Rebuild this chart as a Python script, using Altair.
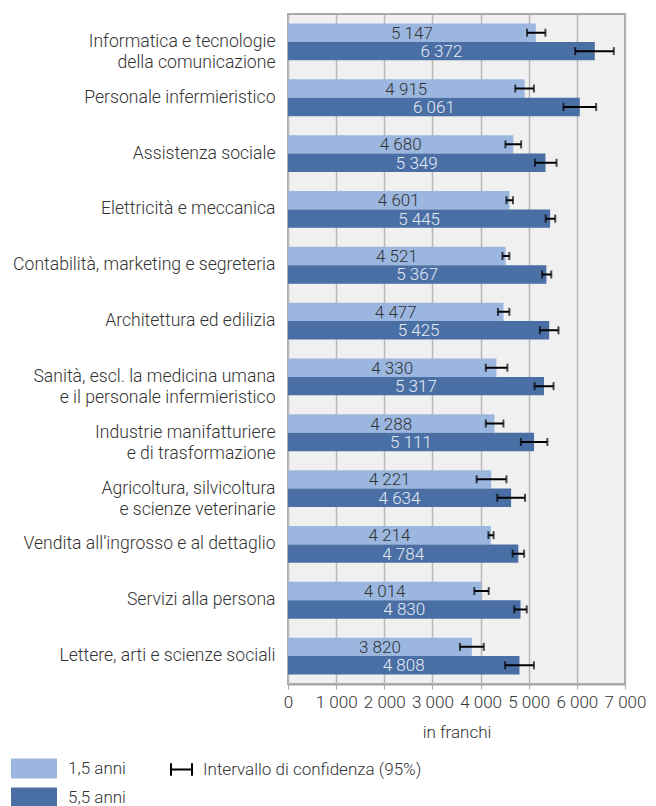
import altair as alt
import pandas as pd

categories = [
    "Informatica e tecnologie\ndella comunicazione",
    "Personale infermieristico",
    "Assistenza sociale",
    "Elettricità e meccanica",
    "Contabilità, marketing e segreteria",
    "Architettura ed edilizia",
    "Sanità, escl. la medicina umana\ne il personale infermieristico",
    "Industrie manifatturiere\ne di trasformazione",
    "Agricoltura, silvicoltura\ne scienze veterinarie",
    "Vendita all’ingrosso e al dettaglio",
    "Servizi alla persona",
    "Lettere, arti e scienze sociali",
]
series = ["1,5 anni", "5,5 anni"]
val_15 = [5147, 4915, 4680, 4601, 4521, 4477, 4330, 4288, 4221, 4214, 4014, 3820]
val_55 = [6372, 6061, 5349, 5445, 5367, 5425, 5317, 5111, 4634, 4784, 4830, 4808]
lo_15 = [4965, 4720, 4516, 4537, 4455, 4360, 4108, 4108, 3918, 4163, 3870, 3571]
hi_15 = [5347, 5108, 4843, 4673, 4598, 4598, 4557, 4475, 4537, 4271, 4169, 4067]
lo_55 = [5965, 5722, 5129, 5353, 5278, 5231, 5122, 4837, 4347, 4666, 4700, 4510]
hi_55 = [6767, 6400, 5578, 5551, 5469, 5618, 5516, 5388, 4924, 4904, 4959, 5108]
ci_label = "Intervallo di confidenza (95%)"

LIGHT = "#9bb7e0"
DARK = "#4a6fa5"
FONT = "Roboto"
TXT = "#333333"

rows = []
for i, c in enumerate(categories):
    for s, v, lo, hi, tc in [
        (series[0], val_15[i], lo_15[i], hi_15[i], TXT),
        (series[1], val_55[i], lo_55[i], hi_55[i], "#e4eaf4"),
    ]:
        rows.append({
            "cat": c, "series": s, "value": v, "lo": lo, "hi": hi,
            "label": f"{v:,}".replace(",", " "), "txtcol": tc, "ci": ci_label,
        })
df = pd.DataFrame(rows)

y_enc = alt.Y(
    "cat:N", sort=categories, title=None,
    scale=alt.Scale(paddingInner=0.34, paddingOuter=0.17),
    axis=alt.Axis(
        labelExpr="split(datum.label, '\\n')", labelFontSize=17.6, labelFont=FONT,
        labelFontWeight=300, labelColor=TXT, labelPadding=13,
        labelLineHeight=21, ticks=False, domain=False, labelLimit=400,
    ),
)
yoff = alt.YOffset("series:N", sort=series, scale=alt.Scale(paddingInner=0, paddingOuter=0))
x_scale = alt.Scale(domain=[0, 7000], nice=False)

rect_path = "M-2.3,-1H2.3V1H-2.3Z"
h_path = "M-1,0H1M-1,-0.6V0.6M1,-0.6V0.6"

base = alt.Chart(df)

bars = base.mark_bar().encode(
    y=y_enc, yOffset=yoff,
    x=alt.X(
        "value:Q", scale=x_scale, title="in franchi",
        axis=alt.Axis(
            values=list(range(0, 7001, 1000)),
            labelExpr="replace(format(datum.value, ','), ',', ' ')",
            labelOverlap=False, labelFlush=False, labelBound=False,
            labelFontSize=17, labelFont=FONT, labelFontWeight=300, labelColor=TXT,
            titleFontSize=17, titleFont=FONT, titleFontWeight=300, titleColor=TXT,
            titlePadding=14, tickColor="#a8a8a8", tickSize=5, domainColor="#a8a8a8",
            domainWidth=2, gridColor="#b8b8b8", gridWidth=1.5, labelPadding=5,
        ),
    ),
    color=alt.Color(
        "series:N", scale=alt.Scale(domain=series, range=[LIGHT, DARK]),
        legend=alt.Legend(
            orient="none", legendX=-264, legendY=744.5, title=None, direction="vertical",
            symbolType=rect_path, symbolSize=400, symbolStrokeWidth=0, symbolOpacity=1,
            labelFontSize=17, labelFont=FONT, labelFontWeight=300, labelColor=TXT,
            labelOffset=24, rowPadding=9,
        ),
    ),
)

labels = base.transform_calculate(half="datum.value / 2").mark_text(
    fontSize=17, font=FONT, fontWeight=300, baseline="middle", align="center", dy=1,
).encode(
    y=alt.Y("cat:N", sort=categories), yOffset=yoff,
    x=alt.X("half:Q", scale=x_scale),
    text="label:N",
    color=alt.Color("txtcol:N", scale=None),
)

rules = base.mark_rule(color="black", strokeWidth=2).encode(
    y=alt.Y("cat:N", sort=categories), yOffset=yoff,
    x=alt.X("lo:Q", scale=x_scale), x2="hi:Q",
    strokeDash=alt.StrokeDash(
        "ci:N", scale=alt.Scale(domain=[ci_label], range=[[1, 0]]),
        legend=alt.Legend(
            orient="none", legendX=-118, legendY=744, title=None,
            symbolType=h_path, symbolSize=441, symbolStrokeColor="black",
            symbolFillColor="transparent", symbolStrokeWidth=2,
            labelFontSize=17, labelFont=FONT, labelFontWeight=300, labelColor=TXT,
            labelOffset=10, labelLimit=400,
        ),
    ),
)

caps_lo = base.mark_tick(color="black", thickness=2, size=8, orient="vertical").encode(
    y=alt.Y("cat:N", sort=categories), yOffset=yoff, x=alt.X("lo:Q", scale=x_scale),
)
caps_hi = base.mark_tick(color="black", thickness=2, size=8, orient="vertical").encode(
    y=alt.Y("cat:N", sort=categories), yOffset=yoff, x=alt.X("hi:Q", scale=x_scale),
)

chart = alt.layer(bars, labels, rules, caps_lo, caps_hi).properties(
    width=337, height=670,
    padding={"left": 4, "top": 6, "right": 0, "bottom": 0},
).configure_view(
    fill="#f0f0f0", stroke="#a8a8a8", strokeWidth=2,
).configure_axisY(grid=False)

chart.save("out.html", embed_options={"renderer": "svg", "actions": False})
